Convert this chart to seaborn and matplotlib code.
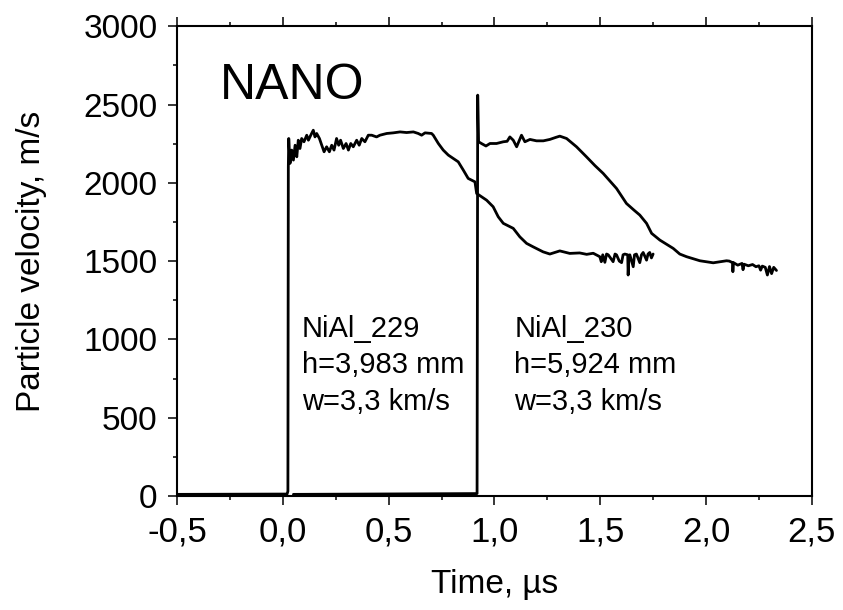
import matplotlib
matplotlib.use("Agg")
import matplotlib.pyplot as plt
import seaborn as sns
import pandas as pd

# ---- data ----
t_229 = [-0.50, 0.020, 0.024, 0.026, 0.028, 0.034, 0.042, 0.050, 0.058, 0.066, 0.073, 0.081,
         0.089, 0.100, 0.113, 0.121, 0.132, 0.144, 0.152, 0.160, 0.173, 0.184, 0.195, 0.207,
         0.220, 0.231, 0.242, 0.254, 0.264, 0.273, 0.286, 0.299, 0.310, 0.321, 0.333, 0.349,
         0.361, 0.373, 0.388, 0.404, 0.420, 0.443, 0.459, 0.491, 0.522, 0.554, 0.585, 0.617,
         0.640, 0.656, 0.672, 0.703, 0.711, 0.735, 0.758, 0.782, 0.806, 0.829, 0.853, 0.876,
         0.892, 0.908, 0.916, 0.963, 0.994, 1.018, 1.042, 1.089, 1.120, 1.152, 1.183, 1.230,
         1.262, 1.309, 1.356, 1.403, 1.436, 1.467, 1.498, 1.505, 1.512, 1.522, 1.530, 1.538,
         1.561, 1.570, 1.577, 1.590, 1.601, 1.608, 1.616, 1.630, 1.632, 1.636, 1.640, 1.656,
         1.662, 1.671, 1.687, 1.695, 1.703, 1.719, 1.726, 1.734, 1.742, 1.750]
v_229 = [10, 12, 30, 2102, 2283, 2124, 2209, 2145, 2240, 2166, 2272, 2219,
         2283, 2262, 2304, 2272, 2304, 2336, 2293, 2315, 2283, 2240, 2198, 2230,
         2198, 2240, 2209, 2283, 2240, 2272, 2219, 2251, 2209, 2251, 2230, 2272,
         2240, 2283, 2262, 2304, 2304, 2293, 2304, 2315, 2319, 2325, 2321, 2325,
         2315, 2304, 2319, 2315, 2304, 2251, 2209, 2177, 2155, 2134, 2081, 2028,
         2017, 2006, 1932, 1889, 1847, 1783, 1741, 1709, 1655, 1613, 1591, 1559,
         1545, 1565, 1549, 1552, 1543, 1550, 1528, 1496, 1540, 1492, 1545, 1540,
         1496, 1545, 1540, 1500, 1490, 1540, 1545, 1540, 1411, 1535, 1540, 1464,
         1540, 1545, 1490, 1540, 1555, 1506, 1545, 1555, 1520, 1545]

t_230 = [0.05, 0.918, 0.921, 0.925, 0.940, 0.960, 0.979, 1.010, 1.042, 1.060, 1.073, 1.089,
         1.105, 1.128, 1.144, 1.168, 1.199, 1.231, 1.262, 1.290, 1.309, 1.341, 1.388, 1.435,
         1.475, 1.514, 1.577, 1.624, 1.660, 1.687, 1.719, 1.743, 1.782, 1.845, 1.876, 1.908,
         1.971, 2.034, 2.097, 2.110, 2.125, 2.127, 2.130, 2.150, 2.170, 2.175, 2.180, 2.200,
         2.220, 2.236, 2.250, 2.258, 2.266, 2.280, 2.290, 2.300, 2.310, 2.320, 2.333]
v_230 = [10, 15, 2560, 2262, 2250, 2235, 2251, 2251, 2262, 2265, 2293, 2272,
         2230, 2304, 2262, 2277, 2268, 2268, 2277, 2290, 2298, 2283, 2230, 2166,
         2110, 2060, 1964, 1868, 1825, 1794, 1741, 1677, 1634, 1581, 1545, 1528,
         1502, 1489, 1502, 1500, 1490, 1432, 1490, 1474, 1485, 1445, 1480, 1470,
         1478, 1464, 1470, 1442, 1468, 1460, 1411, 1465, 1420, 1460, 1440]

x_ticks = [-0.5, 0.0, 0.5, 1.0, 1.5, 2.0, 2.5]
x_tick_labels = ["-0,5", "0,0", "0,5", "1,0", "1,5", "2,0", "2,5"]
y_ticks = [0, 500, 1000, 1500, 2000, 2500, 3000]
y_tick_labels = ["0", "500", "1000", "1500", "2000", "2500", "3000"]

label_229 = ["NiAl_229", "h=3,983 mm", "w=3,3 km/s"]
label_230 = ["NiAl_230", "h=5,924 mm", "w=3,3 km/s"]
title_text = "NANO"

# ---- plotting ----
sns.set_style("ticks")
plt.rcParams["font.family"] = ["Liberation Sans", "DejaVu Sans"]
for k in ["text.color", "axes.labelcolor", "xtick.color", "ytick.color", "axes.edgecolor"]:
    plt.rcParams[k] = "black"

fig = plt.figure(figsize=(8.43, 6.10), dpi=100)
ax = fig.add_axes([0.210, 0.187, 0.753, 0.770])

df1 = pd.DataFrame({"t": t_229, "v": v_229})
df2 = pd.DataFrame({"t": t_230, "v": v_230})
sns.lineplot(data=df1, x="t", y="v", ax=ax, color="black", lw=2.0,
             estimator=None, sort=False)
sns.lineplot(data=df2, x="t", y="v", ax=ax, color="black", lw=2.0,
             estimator=None, sort=False)

ax.set_xlim(-0.5, 2.5)
ax.set_ylim(0, 3000)
ax.set_xticks(x_ticks)
ax.set_xticklabels(x_tick_labels)
ax.set_yticks(y_ticks)
ax.set_yticklabels(y_tick_labels)
ax.set_xticks([-0.25, 0.25, 0.75, 1.25, 1.75, 2.25], minor=True)
ax.set_yticks([250, 750, 1250, 1750, 2250, 2750], minor=True)

for s in ax.spines.values():
    s.set_visible(True)
    s.set_linewidth(1.5)
    s.set_color("black")

ax.tick_params(which="both", direction="out", top=True, right=False,
               bottom=True, left=True, width=1.1, color="black")
ax.tick_params(which="major", length=6.5, pad=7.5)
ax.tick_params(axis="y", which="major", labelsize=24)
ax.tick_params(axis="x", which="major", labelsize=25)
ax.tick_params(which="minor", length=3.2)
ax.tick_params(axis="x", which="both", labeltop=False)

ax.set_xlabel("Time, \u00b5s", fontsize=24)
ax.set_ylabel("Particle velocity, m/s", fontsize=24)
ax.xaxis.set_label_coords(0.5, -0.155)
ax.yaxis.set_label_coords(-0.205, 0.5)

ax.text(-0.297, 2538, title_text, fontsize=36, ha="left", va="baseline")
for i, (a, b) in enumerate(zip(label_229, label_230)):
    yb = 1017 - i * 234
    ax.text(0.09, yb, a, fontsize=21, ha="left", va="baseline")
    ax.text(1.094, yb, b, fontsize=21, ha="left", va="baseline")

fig.savefig("out.png", dpi=100)
